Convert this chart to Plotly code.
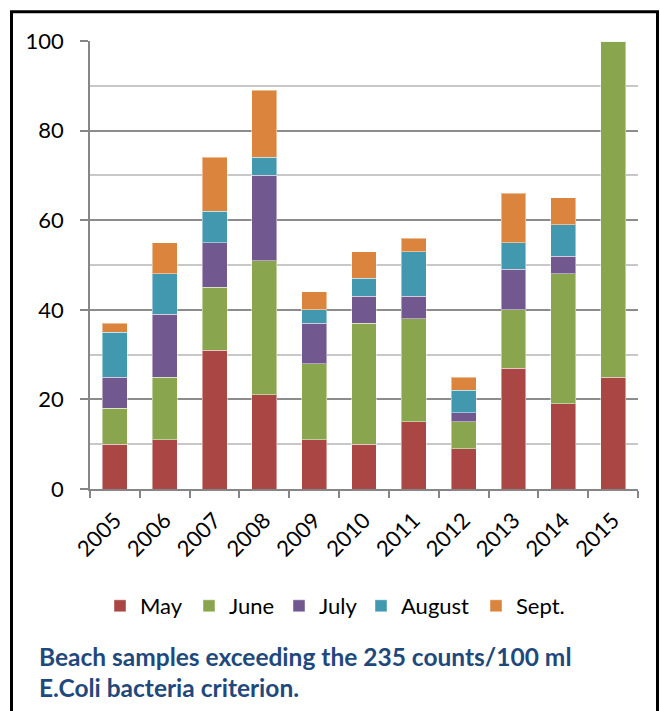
import plotly.graph_objects as go

years = ["2005", "2006", "2007", "2008", "2009", "2010", "2011", "2012", "2013", "2014", "2015"]
may = [10, 11, 31, 21, 11, 10, 15, 9, 27, 19, 25]
june = [8, 14, 14, 30, 17, 27, 23, 6, 13, 29, 75]
july = [7, 14, 10, 19, 9, 6, 5, 2, 9, 4, 0]
august = [10, 9, 7, 4, 3, 4, 10, 5, 6, 7, 0]
sept = [2, 7, 12, 15, 4, 6, 3, 3, 11, 6, 0]

series_names = ["May", "June", "July", "August", "Sept."]
series_values = [may, june, july, august, sept]
colors = ["#AA4643", "#89A54E", "#71588F", "#4198AF", "#DB843D"]
legend_widths = [44, 45, 37, 70, 49]

title_line1 = "Beach samples exceeding the 235 counts/100 ml"
title_line2 = "E.Coli bacteria criterion."

FONT = "Lato"

fig = go.Figure()
for name, vals, col, lw in zip(series_names, series_values, colors, legend_widths):
    fig.add_trace(go.Bar(
        x=years, y=vals, name=name,
        marker=dict(color=col, line=dict(color="rgba(255,255,255,0.45)", width=1)),
        legendwidth=lw,
    ))

W, H = 660, 711
L, R, T, B = 90, 22, 41, 222
pw, ph = W - L - R, H - T - B

def px_x(x):
    return (x - L) / pw

def px_y(y):
    return (H - B - y) / ph

fig.update_layout(
    width=W, height=H,
    barmode="stack",
    bargap=0.5,
    plot_bgcolor="white",
    paper_bgcolor="white",
    margin=dict(l=L, r=R, t=T, b=B, pad=0),
    font=dict(family=FONT, size=22, color="black"),
    showlegend=True,
    legend=dict(
        orientation="h",
        x=px_x(100), xanchor="left",
        y=px_y(606), yanchor="middle",
        font=dict(family=FONT, size=22, color="black"),
        traceorder="normal",
        itemwidth=30,
        bgcolor="rgba(0,0,0,0)",
    ),
    xaxis=dict(
        type="category",
        showline=True, linecolor="#868686", linewidth=1.5,
        ticks="outside", ticklen=7, tickcolor="#868686", tickwidth=1.5,
        tickson="boundaries",
        tickangle=-45,
        ticklabelstandoff=8,
        showgrid=False,
        tickfont=dict(family=FONT, size=22, color="black"),
    ),
    yaxis=dict(
        range=[0, 100],
        dtick=20,
        showline=True, linecolor="#868686", linewidth=1.5,
        ticks="outside", ticklen=8, tickcolor="#868686", tickwidth=1.5,
        ticklabelstandoff=12,
        showgrid=True, gridcolor="#8c8c8c", gridwidth=1.5,
        minor=dict(dtick=10, showgrid=True, gridcolor="#c8c8c8", gridwidth=1.5, ticks=""),
        zeroline=False,
        tickfont=dict(family=FONT, size=22, color="black"),
    ),
    shapes=[
        dict(type="rect", xref="paper", yref="paper",
             x0=px_x(11.5), x1=px_x(657.5), y0=px_y(11.7), y1=px_y(760),
             line=dict(color="black", width=3), fillcolor="rgba(0,0,0,0)", layer="above"),
    ],
    annotations=[
        dict(text="<b>" + title_line1 + "</b>", xref="paper", yref="paper",
             x=px_x(37), y=px_y(656), xanchor="left", yanchor="middle", showarrow=False,
             font=dict(family=FONT, size=24.5, color="#1F497D")),
        dict(text="<b>" + title_line2 + "</b>", xref="paper", yref="paper",
             x=px_x(37), y=px_y(687), xanchor="left", yanchor="middle", showarrow=False,
             font=dict(family=FONT, size=24.5, color="#1F497D")),
    ],
)

fig.write_html("out.html", config={"displayModeBar": False},
               post_script="document.body.style.margin='0px';")
